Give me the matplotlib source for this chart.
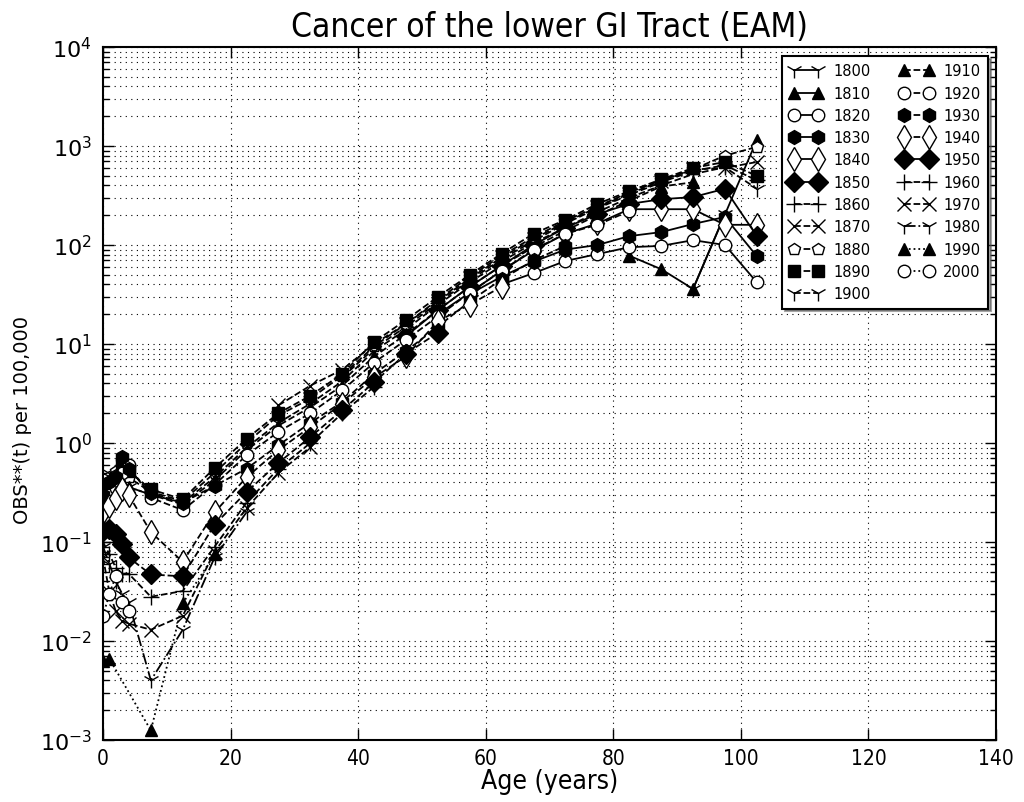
import matplotlib
matplotlib.use('Agg')
import matplotlib.pyplot as plt
from matplotlib.ticker import LogLocator, NullFormatter

# age groups (midpoints): single years 0-4, then 5-year groups
AGE = [0, 1, 2, 3, 4, 7.5, 12.5, 17.5, 22.5, 27.5, 32.5, 37.5, 42.5, 47.5,
       52.5, 57.5, 62.5, 67.5, 72.5, 77.5, 82.5, 87.5, 92.5, 97.5, 102.5]

cohorts = ['1800', '1810', '1820', '1830', '1840', '1850', '1860', '1870',
           '1880', '1890', '1900', '1910', '1920', '1930', '1940', '1950',
           '1960', '1970', '1980', '1990', '2000']

age_1800 = [92.5, 97.5]
obs_1800 = [36, 205]
age_1810 = [82.5, 87.5, 92.5, 102.5]
obs_1810 = [78, 57, 36, 1150]
obs_1820 = [40, 52, 69, 81, 95, 98, 112, 100, 42]
obs_1830 = [32, 48, 68, 90, 100, 123, 135, 163, 192, 77]
obs_1840 = [20, 33, 55, 88, 130, 165, 230, 230, 230, 160, 160]
obs_1850 = [12, 22, 38, 62, 100, 150, 205, 260, 290, 305, 370, 123]
obs_1860 = [4.6, 9, 15, 26, 44, 72, 110, 165, 235, 320, 430, 560, 640, 450]
obs_1870 = [2.4, 3.8, 5.5, 10, 16, 27, 46, 75, 115, 170, 240, 330, 440, 580,
            600, 690]
obs_1880 = [0.35, 0.45, 0.52, 0.58, 0.45, 0.32, 0.26, 0.5, 1.0, 1.9, 2.8, 4.8,
            9.5, 16, 28, 48, 78, 120, 175, 245, 340, 450, 580, 800, 980]
obs_1890 = [0.28, 0.38, 0.42, 0.62, 0.52, 0.34, 0.27, 0.56, 1.1, 2.0, 3.0, 5.0,
            10.5, 17.5, 30, 50, 82, 130, 180, 260, 350, 460, 600, 690, 500]
obs_1900 = [0.33, 0.5, 0.4, 0.45, 0.36, 0.3, 0.25, 0.45, 0.9, 1.6, 2.5, 4.2,
            8.5, 14, 25, 42, 68, 105, 150, 215, 300, 400, 520, 610, 370]
obs_1910 = [0.25, 0.33, 0.38, 0.4, 0.36, 0.3, 0.24, 0.42, 0.85, 1.5, 2.3, 3.8,
            7.5, 12.5, 22, 38, 62, 95, 140, 200, 280, 390, 430]
obs_1920 = [0.42, 0.3, 0.35, 0.5, 0.6, 0.28, 0.21, 0.38, 0.75, 1.3, 2.0, 3.4,
            6.5, 11, 19, 33, 55, 90, 130, 160, 220]
obs_1930 = [0.3, 0.4, 0.45, 0.72, 0.55, 0.31, 0.25, 0.37, 0.55, 0.95, 1.6, 2.6,
            5.0, 8.5, 15, 27, 45, 70, 98]
obs_1940 = [0.2, 0.23, 0.28, 0.34, 0.3, 0.126, 0.063, 0.2, 0.45, 0.85, 1.45,
            2.5, 4.6, 7.5, 17, 25, 38]
obs_1950 = [0.13, 0.135, 0.12, 0.095, 0.07, 0.047, 0.045, 0.15, 0.32, 0.63,
            1.15, 2.15, 4.1, 8, 13]
obs_1960 = [0.1, 0.075, 0.055, 0.048, 0.048, 0.028, 0.032, 0.09, 0.25, 0.55,
            1.0, 2.0, 3.7]
obs_1970 = [0.07, 0.031, 0.02, 0.016, 0.015, 0.013, 0.018, 0.08, 0.22, 0.5,
            0.91]
obs_1980 = [0.09, 0.06, 0.04, 0.03, 0.025, 0.004, 0.013, 0.07, 0.2]
age_1990 = [0, 1, 7.5, 12.5, 17.5]
obs_1990 = [0.0063, 0.0066, 0.00125, 0.024, 0.075]
obs_2000 = [0.018, 0.03, 0.045, 0.025, 0.02]


def tail(vals):
    # older cohorts are only seen at the oldest ages
    return AGE[len(AGE) - len(vals):]


def head(vals):
    return AGE[:len(vals)]


series = [
    (age_1800, obs_1800), (age_1810, obs_1810),
    (tail(obs_1820), obs_1820), (tail(obs_1830), obs_1830),
    (tail(obs_1840), obs_1840), (tail(obs_1850), obs_1850),
    (tail(obs_1860), obs_1860), (tail(obs_1870), obs_1870),
    (AGE, obs_1880), (AGE, obs_1890), (AGE, obs_1900),
    (head(obs_1910), obs_1910), (head(obs_1920), obs_1920),
    (head(obs_1930), obs_1930), (head(obs_1940), obs_1940),
    (head(obs_1950), obs_1950), (head(obs_1960), obs_1960),
    (head(obs_1970), obs_1970), (head(obs_1980), obs_1980),
    (age_1990, obs_1990), (head(obs_2000), obs_2000),
]

markers = ['1', '^', 'o', 'h', 'd', 'D', '+', 'x', 'p', 's', '1',
           '^', 'o', 'h', 'd', 'D', '+', 'x', '1', '^', 'o']
sizes = {'1': 12, '^': 9, 'o': 9, 'h': 10, 'd': 12, 'D': 10, '+': 12,
         'x': 10, 'p': 9, 's': 9}
open_markers = ['o', 'd', 'p']
styles = ['-'] * 6 + ['--'] * 12 + ['-.', ':', ':']

fig = plt.figure(figsize=(10.24, 8.03), dpi=100)
ax = fig.add_axes([0.1006, 0.0772, 0.8721, 0.863])

for (x, y), lab, m, ls in zip(series, cohorts, markers, styles):
    ax.plot(x, y, color='k', linestyle=ls, linewidth=1.3, marker=m,
            markersize=sizes[m],
            markerfacecolor='w' if m in open_markers else 'k',
            markeredgecolor='k', markeredgewidth=1.0, label=lab)

ax.set_yscale('log')
ax.set_xlim(0, 140)
ax.set_ylim(1e-3, 1e4)
ax.set_xticks(range(0, 141, 20))
ax.yaxis.set_major_locator(LogLocator(base=10, numticks=10))
ax.yaxis.set_minor_locator(LogLocator(base=10, subs=range(2, 10), numticks=20))
ax.yaxis.set_minor_formatter(NullFormatter())

ax.grid(True, axis='x', which='major', color='k', linestyle=(0, (1, 4)), linewidth=0.8)
ax.grid(True, axis='y', which='both', color='k', linestyle=(0, (1, 4)), linewidth=0.8)
ax.tick_params(which='both', direction='in', top=True, right=True, width=1)
ax.tick_params(which='major', length=8)
ax.tick_params(which='minor', length=4)
ax.tick_params(axis='y', labelsize=16, pad=8)
ax.tick_params(axis='x', labelsize=15, pad=6)
for lbl in ax.get_xticklabels():
    lbl.set_fontstretch('condensed')
for sp in ax.spines.values():
    sp.set_linewidth(1.5)

ax.set_title('Cancer of the lower GI Tract (EAM)', fontsize=24,
             fontstretch='condensed', pad=8)
ax.set_xlabel('Age (years)', fontsize=19, fontstretch='condensed', labelpad=0)
ax.set_ylabel('OBS**(t) per 100,000', fontsize=14)
ax.yaxis.set_label_coords(-0.080, 0.463)

leg = ax.legend(ncol=2, loc='upper right', bbox_to_anchor=(0.991, 0.987),
                borderaxespad=0, numpoints=2, fontsize=10.5, fancybox=False,
                shadow=True, framealpha=1, edgecolor='k', handlelength=2.3,
                handletextpad=0.7, columnspacing=2.0, labelspacing=0.5,
                borderpad=0.5)
leg.get_frame().set_linewidth(1.5)

fig.savefig('out.png', dpi=100)
